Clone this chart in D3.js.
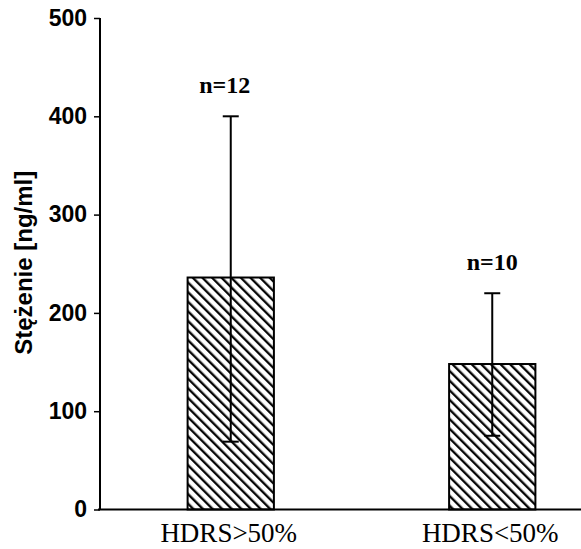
<!DOCTYPE html>
<html>
<head>
<meta charset="utf-8">
<script src="https://cdn.jsdelivr.net/npm/d3@7"></script>
<style>
  body { margin: 0; background: #fff; }
  svg { display: block; }
</style>
</head>
<body>
<div id="chart"></div>
<script>
// data
const categories = ["HDRS>50%", "HDRS<50%"];
const means = [236, 148];
const errLow = [69, 75];
const errHigh = [400, 220];
const nLabels = ["n=12", "n=10"];
const yTicks = [0, 100, 200, 300, 400, 500];

function draw() {
    const width = 581;
    const height = 549;
    const margin = { top: 18, right: 0, bottom: 39.5, left: 100 };

    const svg = d3.select("#chart")
        .append("svg")
        .attr("width", width)
        .attr("height", height);

    // diagonal hatch for bars
    const defs = svg.append("defs");
    const pat = defs.append("pattern")
        .attr("id", "hatch")
        .attr("patternUnits", "userSpaceOnUse")
        .attr("width", 6.8)
        .attr("height", 6.8)
        .attr("patternTransform", "rotate(-45)");
    pat.append("rect").attr("width", 6.8).attr("height", 6.8).attr("fill", "#fff");
    pat.append("line")
        .attr("x1", 1.2).attr("y1", -1)
        .attr("x2", 1.2).attr("y2", 8)
        .attr("stroke", "#000")
        .attr("stroke-width", 2.3);

    const y = d3.scaleLinear()
        .domain([0, 500])
        .range([height - margin.bottom, margin.top]);

    const x = d3.scaleBand()
        .domain(categories)
        .range([margin.left, 623])
        .paddingInner(0.67)
        .paddingOuter(0.335);

    const g = svg.append("g");

    // bars
    g.selectAll("rect.bar")
        .data(categories)
        .join("rect")
        .attr("class", "bar")
        .attr("x", d => x(d))
        .attr("y", (d, i) => y(means[i]))
        .attr("width", x.bandwidth())
        .attr("height", (d, i) => y(0) - y(means[i]))
        .attr("fill", "url(#hatch)")
        .attr("stroke", "#000")
        .attr("stroke-width", 2);

    // error bars
    const capW = 8;
    const eb = g.selectAll("g.err")
        .data(categories)
        .join("g")
        .attr("class", "err")
        .attr("stroke", "#000")
        .attr("stroke-width", 2);
    eb.append("line")
        .attr("x1", d => x(d) + x.bandwidth() / 2)
        .attr("x2", d => x(d) + x.bandwidth() / 2)
        .attr("y1", (d, i) => y(errLow[i]))
        .attr("y2", (d, i) => y(errHigh[i]));
    eb.append("line")
        .attr("x1", d => x(d) + x.bandwidth() / 2 - capW)
        .attr("x2", d => x(d) + x.bandwidth() / 2 + capW)
        .attr("y1", (d, i) => y(errHigh[i]))
        .attr("y2", (d, i) => y(errHigh[i]));
    eb.append("line")
        .attr("x1", d => x(d) + x.bandwidth() / 2 - capW)
        .attr("x2", d => x(d) + x.bandwidth() / 2 + capW)
        .attr("y1", (d, i) => y(errLow[i]))
        .attr("y2", (d, i) => y(errLow[i]));

    // n labels
    g.selectAll("text.n")
        .data(categories)
        .join("text")
        .attr("class", "n")
        .attr("x", (d, i) => x(d) + x.bandwidth() / 2 - (i === 0 ? 6 : 0))
        .attr("y", (d, i) => y(errHigh[i]) - 23)
        .attr("text-anchor", "middle")
        .style("font-family", "'Liberation Serif', serif")
        .style("font-weight", "bold")
        .style("font-size", "24px")
        .text((d, i) => nLabels[i]);

    // y axis
    const yAxis = d3.axisLeft(y)
        .tickValues(yTicks)
        .tickSize(6)
        .tickPadding(7);
    const ya = svg.append("g")
        .attr("transform", `translate(${margin.left},0)`)
        .call(yAxis);
    ya.select(".domain").attr("stroke", "#000").attr("stroke-width", 2)
        .attr("d", `M0,${y(500)}V${y(0)}`);
    ya.selectAll(".tick line").attr("stroke", "#000").attr("stroke-width", 1.5);
    ya.selectAll(".tick text")
        .attr("fill", "#000")
        .style("font-family", "'Liberation Sans', sans-serif")
        .style("font-weight", "bold")
        .style("font-size", "23px");

    // x axis baseline
    const xAxis = d3.axisBottom(x).tickSize(0).tickPadding(13);
    const xa = svg.append("g")
        .attr("transform", `translate(0,${y(0)})`)
        .call(xAxis);
    xa.select(".domain").attr("stroke", "#000").attr("stroke-width", 2)
        .attr("d", `M${margin.left - 2},0H${width}`);
    xa.selectAll(".tick text")
        .attr("fill", "#000")
        .attr("dx", "-2")
        .style("font-family", "'Liberation Serif', serif")
        .style("font-size", "27px");

    // y axis title
    svg.append("text")
        .attr("transform", `translate(32,${(y(0) + y(500)) / 2 - 1}) rotate(-90)`)
        .attr("text-anchor", "middle")
        .style("font-family", "'Liberation Sans', sans-serif")
        .style("font-weight", "bold")
        .style("font-size", "24px")
        .text("Stężenie [ng/ml]");
}

draw();
</script>
</body>
</html>
